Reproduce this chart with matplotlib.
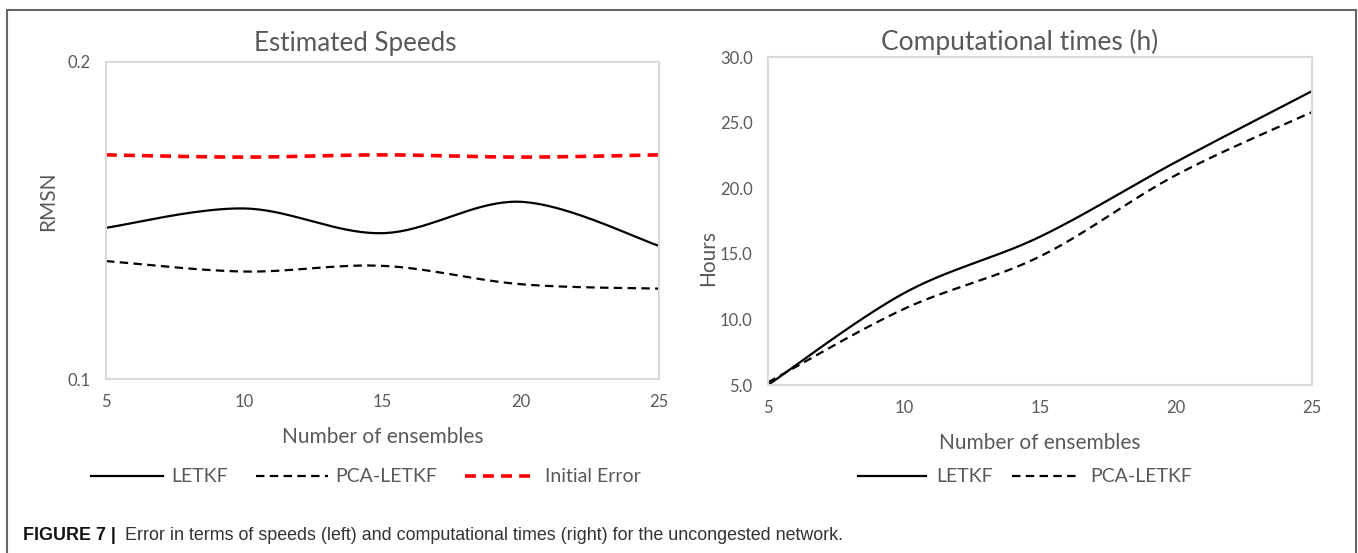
import numpy as np
import matplotlib
matplotlib.use("Agg")
import matplotlib.pyplot as plt
from matplotlib.patches import Rectangle

# ---- data ----
ensembles = [5, 10, 15, 20, 25]
rmsn_letkf = [0.1477, 0.1538, 0.1460, 0.1559, 0.1420]
rmsn_pca_letkf = [0.1372, 0.1339, 0.1357, 0.1299, 0.1285]
rmsn_initial = [0.1707, 0.1700, 0.1707, 0.1700, 0.1707]

hours_letkf = [5.0, 12.0, 16.3, 22.0, 27.4]
hours_pca_letkf = [5.2, 10.8, 14.8, 21.0, 25.8]

left_yticks = [0.1, 0.2]
left_yticklabels = ["0.1", "0.2"]
right_yticks = [5, 10, 15, 20, 25, 30]
right_yticklabels = ["5.0", "10.0", "15.0", "20.0", "25.0", "30.0"]

GRAY = "#595959"
FRAME = "#D9D9D9"
FONT = "Lato"


def smooth(x, y, n=40):
    """Excel-like smoothed line (Catmull-Rom Bezier segments)."""
    x = np.asarray(x, float)
    y = np.asarray(y, float)
    px = np.concatenate([[x[0]], x, [x[-1]]])
    py = np.concatenate([[y[0]], y, [y[-1]]])
    xs, ys = [], []
    t = np.linspace(0, 1, n)
    for i in range(1, len(px) - 2):
        p0 = np.array([px[i], py[i]])
        p3 = np.array([px[i + 1], py[i + 1]])
        c1 = p0 + (np.array([px[i + 1], py[i + 1]]) - np.array([px[i - 1], py[i - 1]])) / 6
        c2 = p3 - (np.array([px[i + 2], py[i + 2]]) - np.array([px[i], py[i]])) / 6
        b = ((1 - t) ** 3)[:, None] * p0 + (3 * (1 - t) ** 2 * t)[:, None] * c1 \
            + (3 * (1 - t) * t ** 2)[:, None] * c2 + (t ** 3)[:, None] * p3
        xs.append(b[:, 0])
        ys.append(b[:, 1])
    return np.concatenate(xs), np.concatenate(ys)


fig = plt.figure(figsize=(13.58, 5.53), dpi=100)
W, H = 1358, 553

def ax_rect(l, t, r, b):
    return [l / W, 1 - b / H, (r - l) / W, (b - t) / H]

ax1 = fig.add_axes(ax_rect(106, 62, 659, 379))
ax2 = fig.add_axes(ax_rect(768, 57, 1312, 385))

LW = 1.6
BLACK_DASH = (3.8, 2.4)
RED_DASH = (3.0, 2.0)

# left plot
l1, = ax1.plot(*smooth(ensembles, rmsn_letkf), color="black", lw=LW, label="LETKF")
l2, = ax1.plot(*smooth(ensembles, rmsn_pca_letkf), color="black", lw=LW,
               dashes=BLACK_DASH, label="PCA-LETKF")
l3, = ax1.plot(*smooth(ensembles, rmsn_initial), color="#FF0000", lw=2.6,
               dashes=RED_DASH, label="Initial Error")
ax1.set_xlim(5, 25)
ax1.set_ylim(0.1, 0.2)
ax1.set_yticks(left_yticks)
ax1.set_yticklabels(left_yticklabels)
ax1.set_xticks(ensembles)
ax1.set_title("Estimated Speeds", fontsize=18.7, color=GRAY, family=FONT, pad=8,
              x=(355.5 - 106) / 553)
ax1.set_ylabel("RMSN", fontsize=15, color=GRAY, family=FONT)
ax1.yaxis.set_label_coords(-0.087, 0.56)
ax1.set_xlabel("Number of ensembles", fontsize=15, color=GRAY, family=FONT, labelpad=12)

# right plot
r1, = ax2.plot(*smooth(ensembles, hours_letkf), color="black", lw=LW, label="LETKF")
r2, = ax2.plot(*smooth(ensembles, hours_pca_letkf), color="black", lw=LW,
               dashes=BLACK_DASH, label="PCA-LETKF")
ax2.set_xlim(5, 25)
ax2.set_ylim(5, 30)
ax2.set_yticks(right_yticks)
ax2.set_yticklabels(right_yticklabels)
ax2.set_xticks(ensembles)
ax2.set_title("Computational times (h)", fontsize=19, color=GRAY, family=FONT, pad=5,
              x=(1020 - 768) / 544)
ax2.set_ylabel("Hours", fontsize=15, color=GRAY, family=FONT)
ax2.yaxis.set_label_coords(-0.092, 0.386)
ax2.set_xlabel("Number of ensembles", fontsize=15, color=GRAY, family=FONT, labelpad=12)

for ax in (ax1, ax2):
    for s in ax.spines.values():
        s.set_color(FRAME)
        s.set_linewidth(1.5)
    ax.tick_params(length=0, labelsize=12, labelcolor=GRAY, pad=11)
    for lab in ax.get_xticklabels() + ax.get_yticklabels():
        lab.set_family(FONT)

leg1 = fig.legend(handles=[l1, l2, l3], loc="center", bbox_to_anchor=(366 / W, 1 - 477 / H),
                  ncol=3, frameon=False, handlelength=3.7, columnspacing=1.45,
                  handletextpad=0.4, prop={"family": FONT, "size": 14})
for t in leg1.get_texts():
    t.set_color(GRAY)
leg2 = fig.legend(handles=[r1, r2], loc="center", bbox_to_anchor=(1025 / W, 1 - 477 / H),
                  ncol=2, frameon=False, handlelength=3.5, columnspacing=1.0,
                  handletextpad=0.5, prop={"family": FONT, "size": 14})
for t in leg2.get_texts():
    t.set_color(GRAY)

# outer frame
fig.patches.append(Rectangle((7 / W, -0.01), (1356 - 7) / W, 1 - 10 / H + 0.01,
                             transform=fig.transFigure, fill=False,
                             edgecolor="#666666", lw=1.5))

# caption
fig.text(23 / W, 1 - 536 / H, "FIGURE 7 |", fontsize=12.9, weight="bold",
         family="Liberation Sans", color="#111111", va="center", ha="left")
fig.text(125 / W, 1 - 536 / H,
         "Error in terms of speeds (left) and computational times (right) for the uncongested network.",
         fontsize=12.9, family="Liberation Sans", color="#333333", va="center", ha="left")

fig.savefig("out.png", dpi=100)
